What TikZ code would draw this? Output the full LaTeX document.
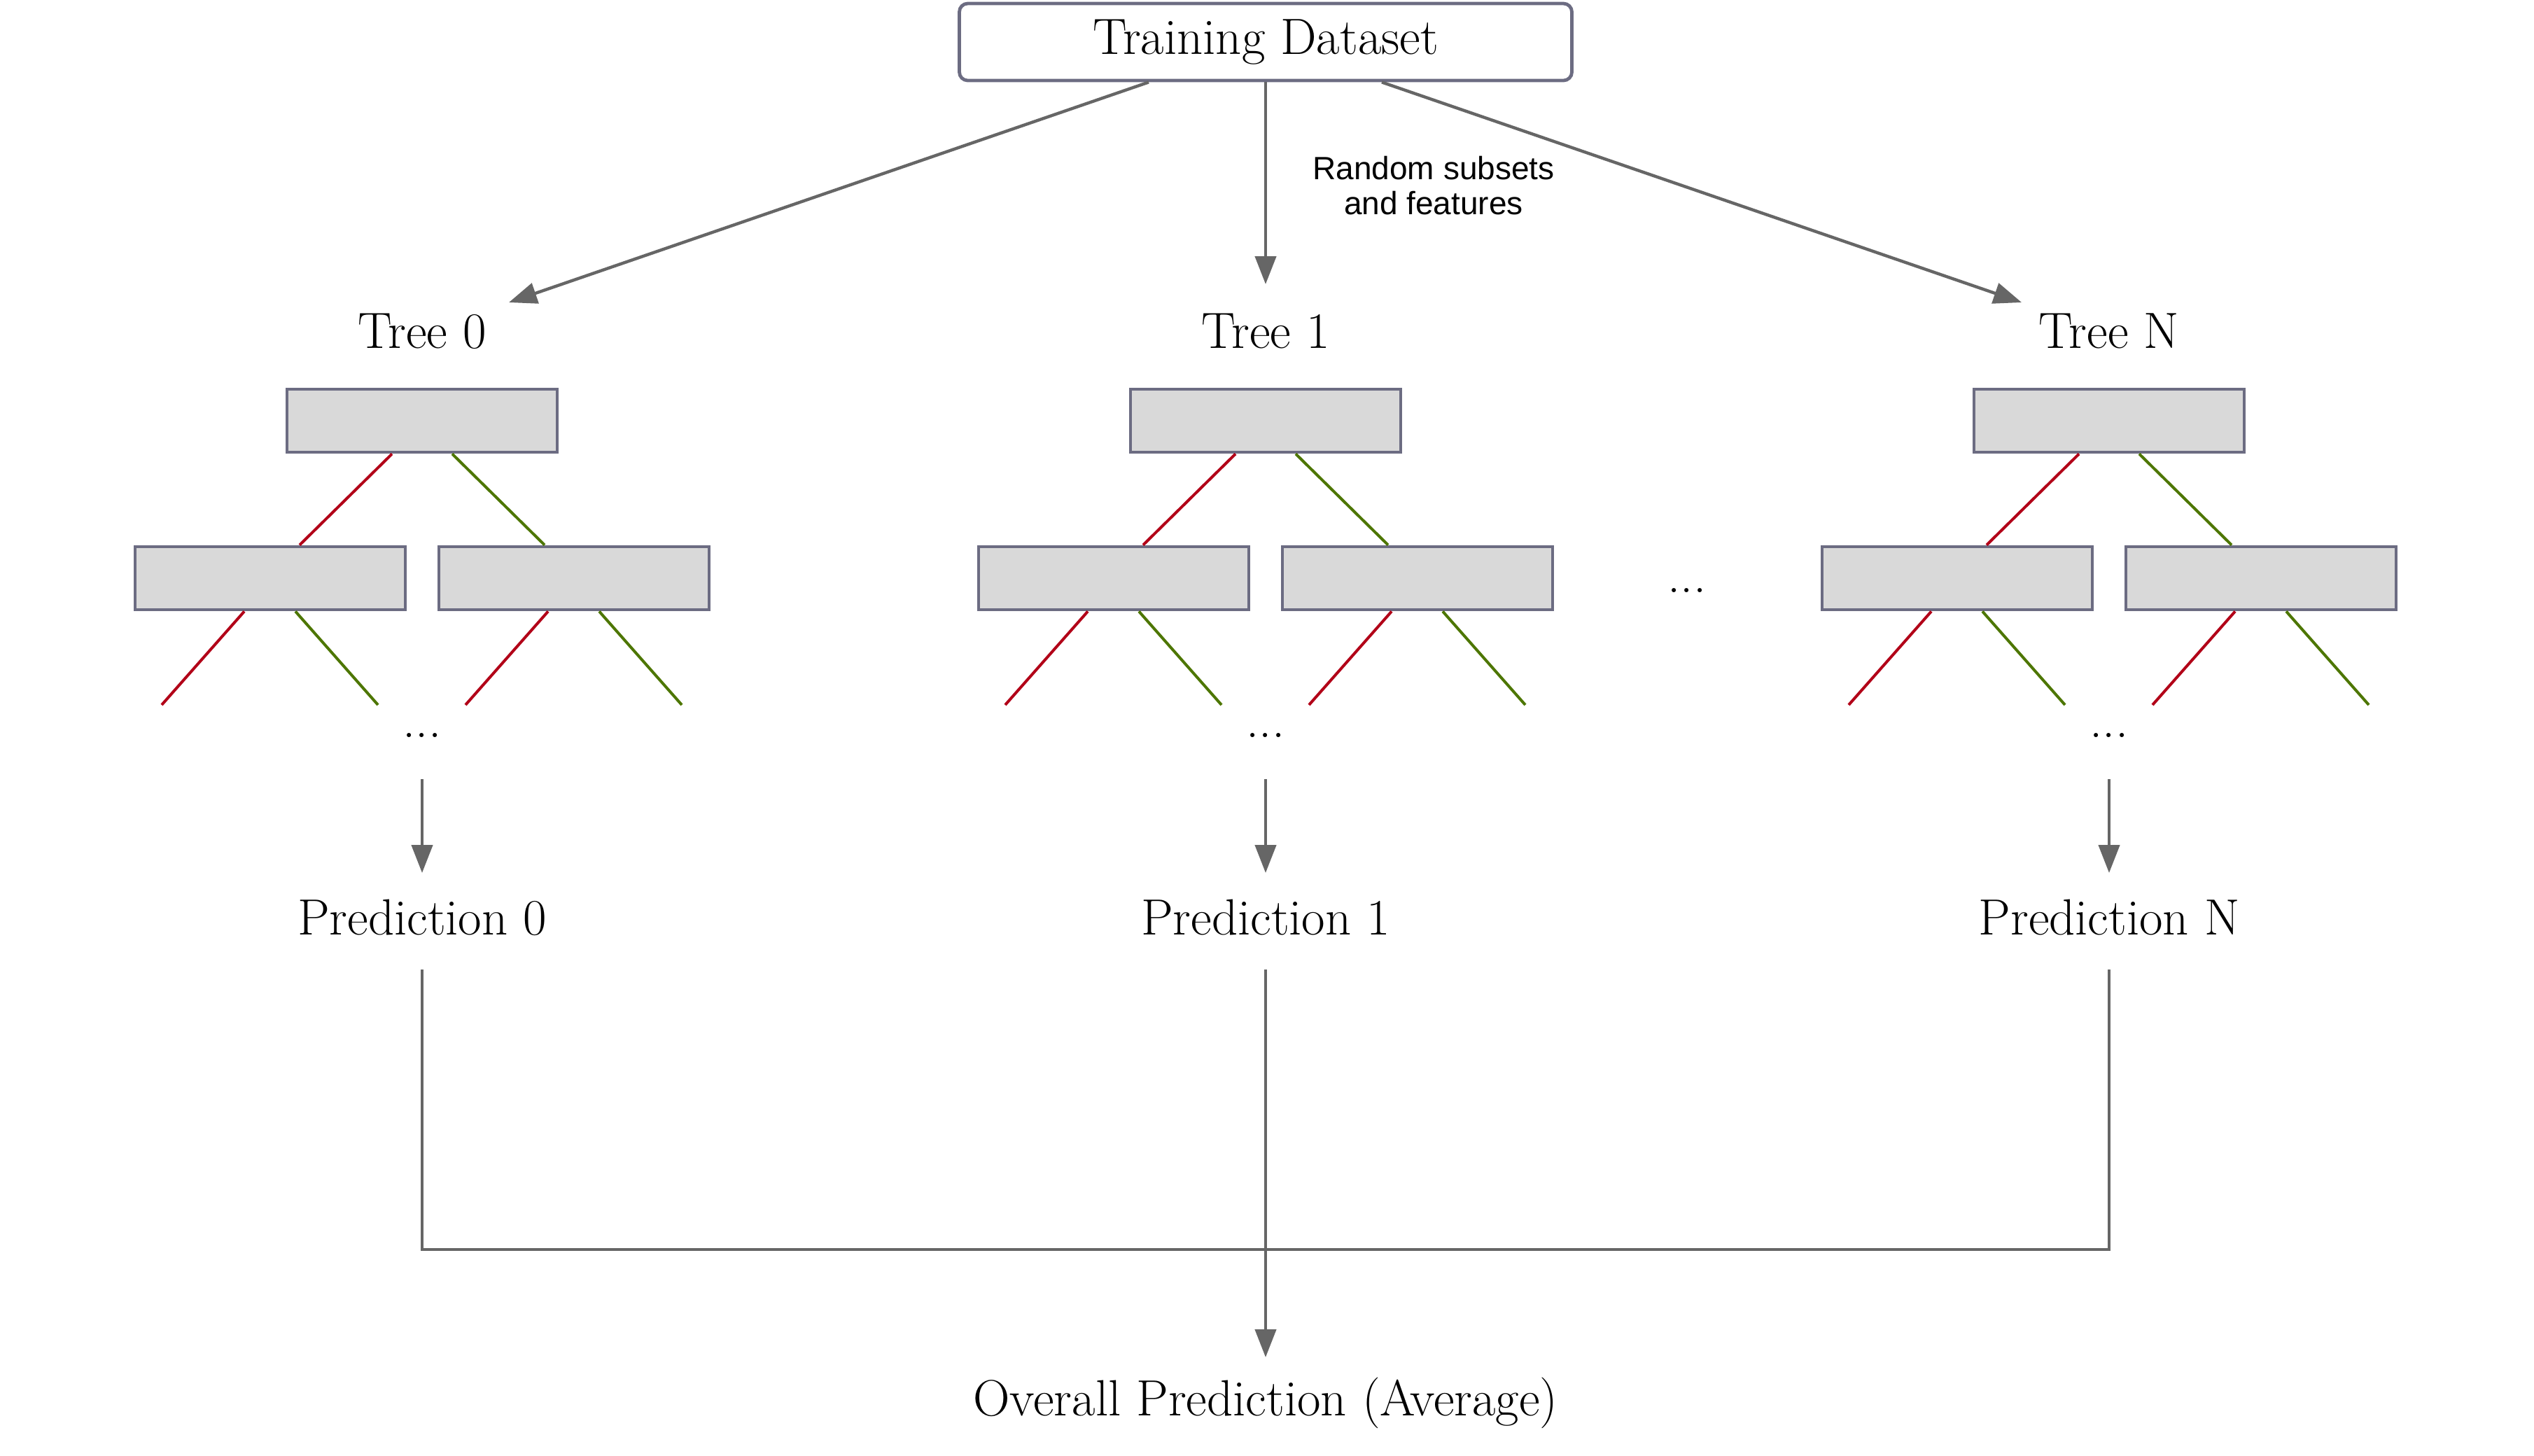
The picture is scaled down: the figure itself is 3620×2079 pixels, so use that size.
\documentclass[tikz,border=0pt]{standalone}
\usepackage{fontspec}
\newfontfamily\sansf{Liberation Sans}
\usetikzlibrary{arrows.meta}
\definecolor{connc}{HTML}{666666}
\definecolor{boxc}{HTML}{6C6C82}
\definecolor{boxf}{HTML}{D9D9D9}
\definecolor{redc}{HTML}{B20018}
\definecolor{grnc}{HTML}{4D7600}
\begin{document}
\begin{tikzpicture}[x=0.25pt,y=-0.25pt,
  conn/.style={draw=connc, line width=1.1pt},
  arr/.style={conn, -{Triangle[length=10pt,width=7.5pt]}},
  tbox/.style={draw=boxc, fill=boxf, line width=1.2pt, minimum width=96.5pt, minimum height=22.5pt, inner sep=0pt},
  lbl/.style={inner sep=0pt, font=\fontsize{18.2}{22}\selectfont},
  redl/.style={draw=redc, line width=1pt},
  grnl/.style={draw=grnc, line width=1pt}]
\useasboundingbox (0,0) rectangle (3620,2079);
\fill[white] (0,0) rectangle (3620,2079);

\node[draw=boxc, line width=1.2pt, rounded corners=3pt, minimum width=218.75pt, minimum height=27.5pt, inner sep=0pt, font=\fontsize{18.2}{22}\selectfont] (train) at (1808,60) {Training Dataset};

\node[inner sep=0pt, align=center, font=\sansf\fontsize{11.5}{12.5}\selectfont] (lab) at (2048,265) {Random subsets\\and features};

\foreach \cx/\k in {603/0,1808/1,3013/N}{
  \node[lbl] (tree\k) at (\cx,473) {Tree \k};
  \node[tbox] (r\k) at (\cx,601) {};
  \node[tbox] (L\k) at (\cx-217,826) {};
  \node[tbox] (R\k) at (\cx+217,826) {};
  \draw[redl] ([shift={(-43,0)}]r\k.south) -- ([shift={(42,0)}]L\k.north);
  \draw[grnl] ([shift={(43,0)}]r\k.south) -- ([shift={(-42,0)}]R\k.north);
  \coordinate (La\k) at (\cx-217-155,1007);
  \coordinate (Lb\k) at (\cx-217+154,1007);
  \coordinate (Ra\k) at (\cx+217-155,1007);
  \coordinate (Rb\k) at (\cx+217+154,1007);
  \draw[redl] ([shift={(-37,0)}]L\k.south) -- (La\k);
  \draw[grnl] ([shift={(36,0)}]L\k.south) -- (Lb\k);
  \draw[redl] ([shift={(-37,0)}]R\k.south) -- (Ra\k);
  \draw[grnl] ([shift={(36,0)}]R\k.south) -- (Rb\k);
  \node[lbl] (d\k) at (\cx,1050) {...};
  \node[lbl] (p\k) at (\cx,1311) {Prediction \k};
  \draw[arr] ([shift={(0,63)}]d\k.center) -- ([shift={(0,-64)}]p\k.center);
}

\node[lbl] (mdots) at (2410,843) {...};

\draw[arr] ([shift={(-167,0)}]train.south) -- ([shift={(124,-41)}]tree0.center);
\draw[arr] (train.south) -- ([shift={(0,-67)}]tree1.center);
\draw[arr] ([shift={(166,0)}]train.south) -- ([shift={(-125,-41)}]treeN.center);

\node[lbl] (ov) at (1808,2004) {Overall Prediction (Average)};
\coordinate (j) at (1808,1785);
\draw[conn] ([shift={(0,74)}]p0.center) |- (j) -| ([shift={(0,74)}]pN.center);
\draw[arr] ([shift={(0,74)}]p1.center) -- ([shift={(0,-65)}]ov.center);
\end{tikzpicture}
\end{document}
